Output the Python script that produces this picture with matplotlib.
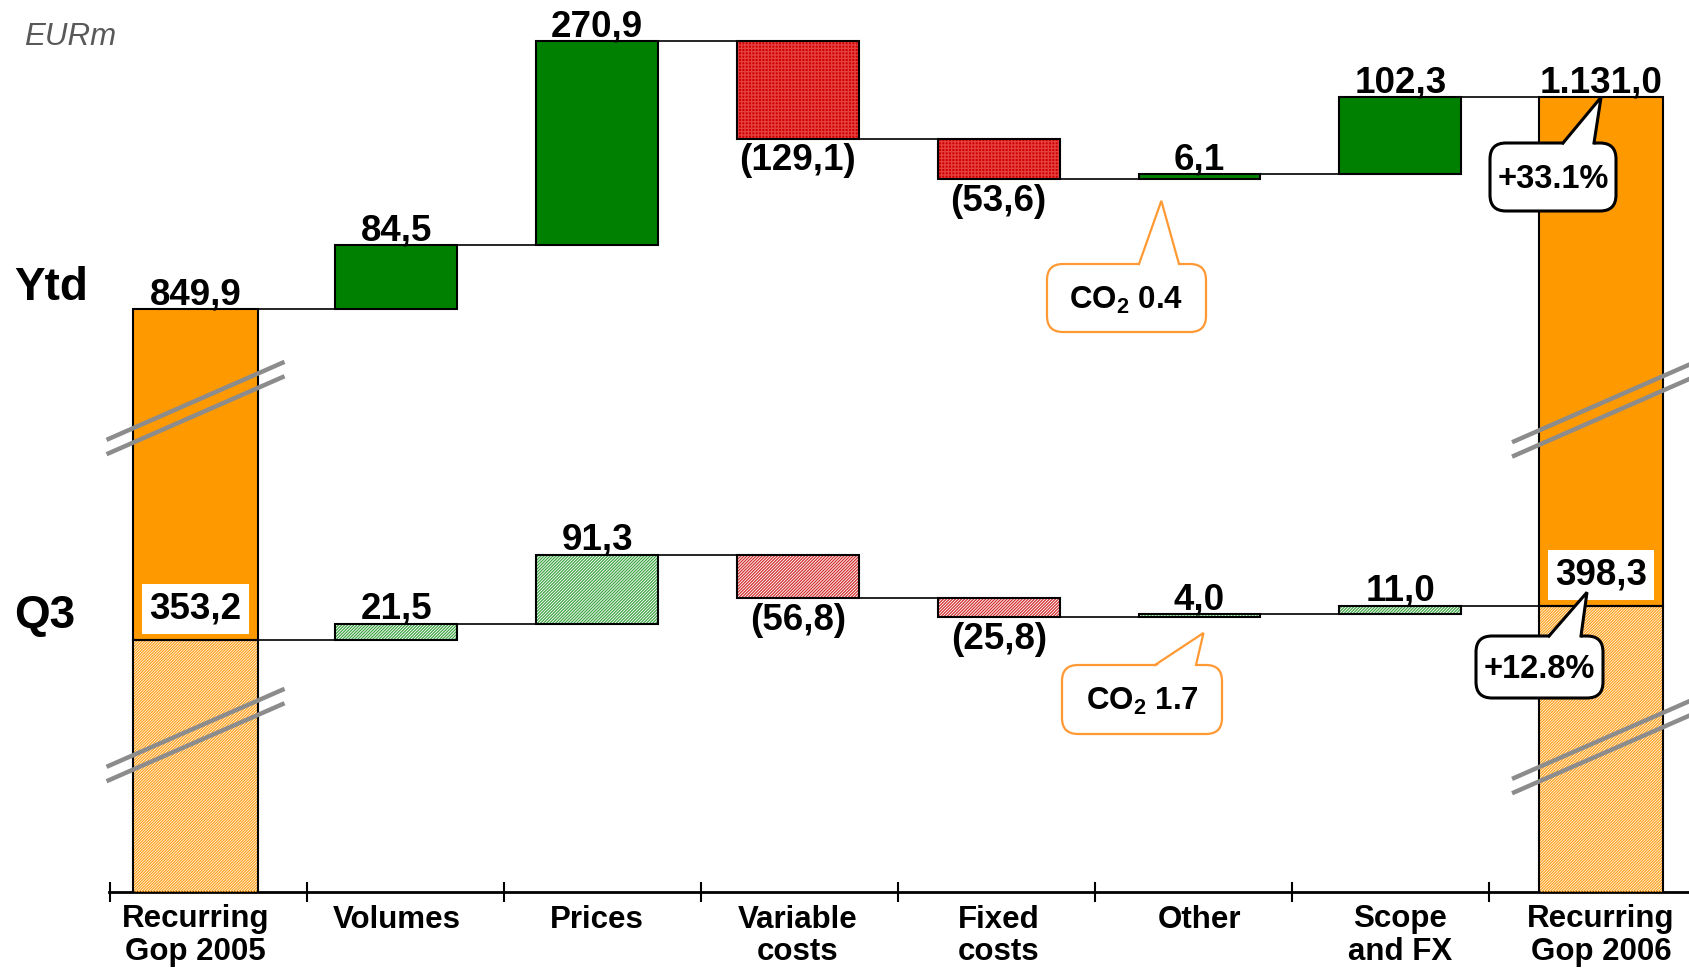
import numpy as np
import matplotlib.pyplot as plt
from matplotlib.patches import FancyBboxPatch, Polygon

plt.rcParams['font.family'] = ['Liberation Sans', 'DejaVu Sans']
plt.rcParams['mathtext.fontset'] = 'custom'
plt.rcParams['mathtext.rm'] = 'Liberation Sans:bold'
plt.rcParams['mathtext.bf'] = 'Liberation Sans:bold'
plt.rcParams['hatch.linewidth'] = 0.9

# --- datos del puente de GOP recurrente (EURm) ---
categories = ["Recurring\nGop 2005", "Volumes", "Prices", "Variable\ncosts",
              "Fixed\ncosts", "Other", "Scope\nand FX", "Recurring\nGop 2006"]

ytd_start = 849.9
ytd_changes = [84.5, 270.9, -129.1, -53.6, 6.1, 102.3]
ytd_end = 1131.0
ytd_growth = "+33.1%"
ytd_co2 = 0.4

q3_start = 353.2
q3_changes = [21.5, 91.3, -56.8, -25.8, 4.0, 11.0]
q3_end = 398.3
q3_growth = "+12.8%"
q3_co2 = 1.7

# colores
ORANGE = '#FF9900'
GREEN = '#008000'
RED = '#CC0000'
HATCH_GREEN = '#3FA544'
HATCH_RED = '#D32F2F'
HATCH_ORANGE = '#FFA11C'
BREAK_GREY = '#8C8C8C'

# la serie Ytd se dibuja desplazada sobre el eje cortado
YTD_SHIFT = 58.1

W, H = 1689, 968
fig = plt.figure(figsize=(W / 100, H / 100), dpi=100)
ax = fig.add_axes([109 / W, 1 - 892 / H, 1 - 109 / W, 892 / H])
ax.set_xlim(-0.431, 7.438)
ax.set_ylim(18.8, 1201.9)

for side in ['top', 'right', 'left']:
    ax.spines[side].set_visible(False)
ax.spines['bottom'].set_linewidth(2)
ax.set_yticks([])

centers = np.arange(len(categories))
ax.set_xticks(np.linspace(-0.428, 6.44, 8))
ax.tick_params(axis='x', which='major', direction='inout', length=14, width=1.5,
               labelbottom=False)
ax.set_xticks(centers, categories, minor=True)
ax.tick_params(axis='x', which='minor', length=0, pad=9)
for lbl in ax.get_xticklabels(minor=True):
    lbl.set_fontsize(22.5)
    lbl.set_fontweight('bold')
    lbl.set_linespacing(1.12)


def fmt(v):
    s = f"{abs(v):,.1f}".replace(',', 'X').replace('.', ',').replace('X', '.')
    return f"({s})" if v < 0 else s


def draw_bar(x, lo, hi, width, face, hatch=None, hatch_color=None, lw=1.5):
    ax.bar(x, hi - lo, width, bottom=lo, color=face, edgecolor='none', zorder=2)
    if hatch:
        ax.bar(x, hi - lo, width, bottom=lo, color='none', edgecolor=hatch_color,
               hatch=hatch, linewidth=0, zorder=3)
    ax.bar(x, hi - lo, width, bottom=lo, color='none', edgecolor='black',
           linewidth=lw, zorder=4)


def value_label(x, y, v, up):
    if up:
        ax.annotate(fmt(v), (x, y), xytext=(0, 3.5), textcoords='offset points',
                    ha='center', va='baseline', fontsize=26.5, fontweight='bold', zorder=6)
    else:
        ax.annotate(fmt(v), (x, y), xytext=(0, -3.5), textcoords='offset points',
                    ha='center', va='top', fontsize=26.5, fontweight='bold', zorder=6)


def waterfall(start, changes, end, shift, pos_style, neg_style):
    levels = start + np.concatenate([[0], np.cumsum(changes)])
    mid_w = 0.606
    for i, d in enumerate(changes):
        x = centers[i + 1]
        lo, hi = sorted([levels[i], levels[i + 1]])
        style = pos_style if d >= 0 else neg_style
        draw_bar(x, lo - shift, hi - shift, mid_w, **style)
        if d >= 0:
            value_label(x, hi - shift, d, True)
        else:
            value_label(x, lo - shift, d, False)
    # lineas de union entre barras
    for k in range(len(levels)):
        w_left = 0.62 if k == 0 else mid_w
        w_right = 0.62 if k == len(levels) - 1 else mid_w
        x0 = centers[k] + w_left / 2
        x1 = centers[k + 1] - w_right / 2
        ax.plot([x0, x1], [levels[k] - shift] * 2, color='black', lw=1.2, zorder=1)
    return levels


ytd_pos = dict(face=GREEN)
ytd_neg = dict(face=RED, hatch='+' * 5, hatch_color='#E64040')
q3_pos = dict(face='white', hatch='/' * 11, hatch_color=HATCH_GREEN)
q3_neg = dict(face='white', hatch='/' * 11, hatch_color=HATCH_RED)

ytd_levels = waterfall(ytd_start, ytd_changes, ytd_end, YTD_SHIFT, ytd_pos, ytd_neg)
q3_levels = waterfall(q3_start, q3_changes, q3_end, 0, q3_pos, q3_neg)

# columnas de totales: Q3 rayado abajo, Ytd macizo encima
end_w = 0.62
for x, q, y in [(centers[0], q3_start, ytd_start), (centers[-1], q3_end, ytd_end)]:
    draw_bar(x, 0, q, end_w, 'white', hatch='/' * 12, hatch_color=HATCH_ORANGE)
    draw_bar(x, q, y - YTD_SHIFT, end_w, ORANGE)
    value_label(x, y - YTD_SHIFT, y, True)
    ax.annotate(fmt(q), (x, q), xytext=(0, 22), textcoords='offset points',
                ha='center', va='center', fontsize=26.5, fontweight='bold', zorder=6,
                bbox=dict(boxstyle='square,pad=0.2', fc='white', ec='none'))

# capa superior en pixeles para textos sueltos, cortes y globos
ov = fig.add_axes([0, 0, 1, 1], zorder=5)
ov.set_xlim(0, W)
ov.set_ylim(H, 0)
ov.axis('off')
ov.patch.set_visible(False)


def to_px(x, y):
    return ov.transData.inverted().transform(ax.transData.transform((x, y)))


ov.text(24, 37, "EURm", fontsize=22.5, style='italic', color='#595959', va='center')
ov.text(14, 288, "Ytd", fontsize=33, fontweight='bold', va='center')
ov.text(14, 616, "Q3", fontsize=33, fontweight='bold', va='center')

# marcas de eje cortado
for x, level in [(centers[0], 660.7), (centers[0], 227), (centers[-1], 657.5), (centers[-1], 211)]:
    cx, cy = to_px(x, level)
    for off in (-7.2, 7.2):
        ov.plot([cx - 89, cx + 89], [cy + 39 + off, cy - 39 + off], color=BREAK_GREY,
                lw=3.2, solid_capstyle='butt', zorder=3)


def callout(text, box, base, tip, edge, lw, size):
    x0, y0, x1, y1 = box
    ov.add_patch(FancyBboxPatch((x0, y0), x1 - x0, y1 - y0,
                                boxstyle="round,pad=0,rounding_size=16",
                                fc='white', ec=edge, lw=lw, zorder=6))
    ov.add_patch(Polygon([(base[0], y0 + 2), tuple(tip), (base[1], y0 + 2)],
                         closed=True, fc='white', ec='none', zorder=7))
    ov.plot([base[0], tip[0], base[1]], [y0, tip[1], y0], color=edge, lw=lw,
            zorder=8, solid_joinstyle='miter')
    ov.text((x0 + x1) / 2, (y0 + y1) / 2 + 2, text, ha='center', va='center',
            fontsize=size, fontweight='bold', zorder=9)


callout(ytd_growth, (1490, 143, 1616, 211), (1563, 1594),
        to_px(centers[-1], ytd_end - YTD_SHIFT), 'black', 2.2, 23.5)
callout(q3_growth, (1476, 636, 1603, 698), (1549, 1581),
        to_px(6.93, q3_end + 18), 'black', 2.2, 23.5)
callout(r"CO$_\mathbf{2}$ " + f"{ytd_co2}", (1047, 264, 1206, 332), (1139, 1179),
        to_px(4.81, ytd_levels[4] - YTD_SHIFT - 29), '#FF9933', 1.6, 22.5)
callout(r"CO$_\mathbf{2}$ " + f"{q3_co2}", (1062, 665, 1222, 734), (1155, 1196),
        to_px(5.02, q3_levels[4] - 21), '#FF9933', 1.6, 22.5)

fig.savefig("out.png", dpi=100)
